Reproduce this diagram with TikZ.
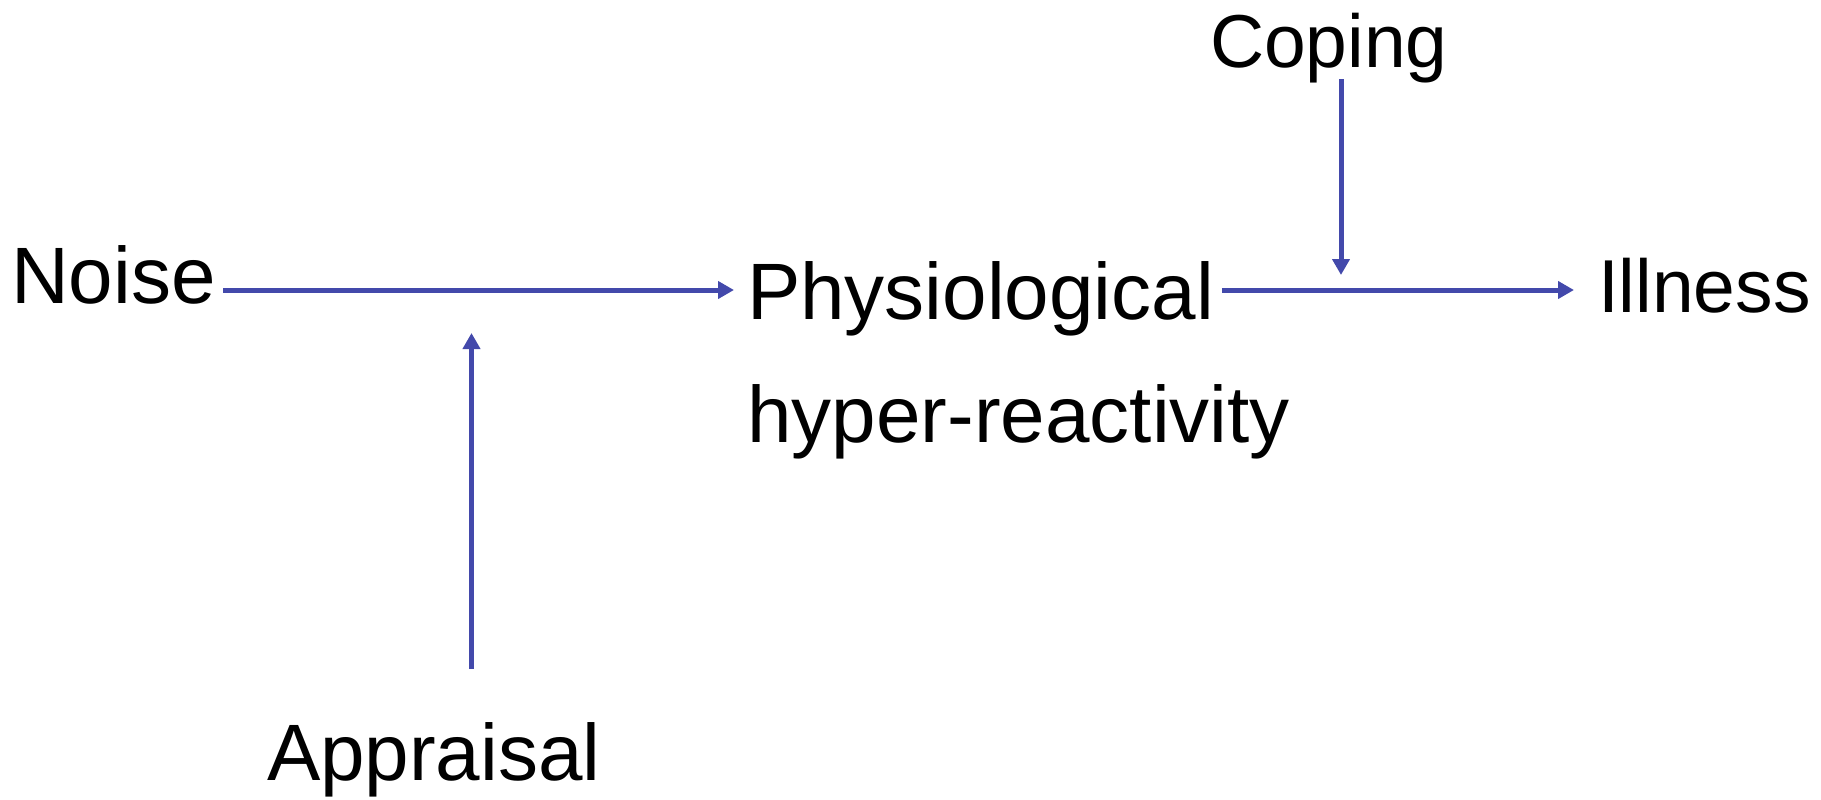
\documentclass[tikz,border=0pt]{standalone}
\usepackage{fontspec}
\setmainfont{Liberation Sans}
\usetikzlibrary{arrows.meta,calc}
\definecolor{arrblue}{RGB}{67,73,171}
\begin{document}
\begin{tikzpicture}[x=0.5pt,y=-0.5pt,
  lbl/.style={inner sep=0pt,outer sep=0pt,anchor=base west,font=\fontsize{40}{48}\selectfont},
  slbl/.style={lbl,font=\fontsize{37.5}{45}\selectfont},
  arr/.style={draw=arrblue,line width=2.5pt,-{Triangle[width=8.5pt,length=8pt]}}]
\useasboundingbox (0,0) rectangle (1821,799);
\node[lbl] (noise) at (11,303) {Noise};
\node[lbl] (phys) at (747,319) {Physiological};
\node[lbl] (hyper) at (747.5,442) {hyper-reactivity};
\node[slbl] (ill) at (1598,312) {Illness};
\node[slbl] (cop) at (1210,67) {Coping};
\node[lbl] (app) at (267,780) {Appraisal};
\coordinate (copt) at (1341,275);
\coordinate (appt) at (471.5,333);
\draw[arr] ($(noise.base east)+(7.5,-13)$) -- ($(phys.base west)+(-13,-29)$);
\draw[arr] ($(phys.base east)+(8,-29)$) -- ($(ill.base west)+(-24,-22)$);
\draw[arr] ($(cop.base west)+(131,12)$) -- (copt);
\draw[arr] ($(app.base west)+(204.5,-111)$) -- (appt);
\end{tikzpicture}
\end{document}
